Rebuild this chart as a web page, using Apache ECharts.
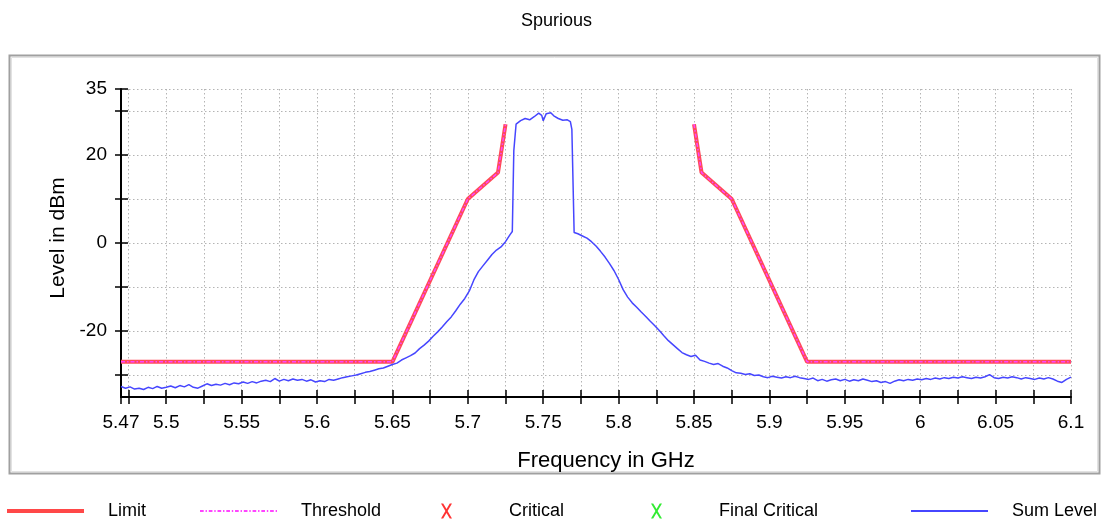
<!DOCTYPE html>
<html>
<head>
<meta charset="utf-8">
<script src="https://cdn.jsdelivr.net/npm/echarts@6/dist/echarts.min.js"></script>
<style>html,body{margin:0;padding:0;background:#fff;}#c{width:1101px;height:521px;}</style>
</head>
<body>
<div id="c"></div>
<script>
const chartTitle = 'Spurious';
const xName = 'Frequency in GHz';
const yName = 'Level in dBm';
const seriesNames = ['Limit', 'Threshold', 'Critical', 'Final Critical', 'Sum Level'];

const xTicks = [5.47, 5.475, 5.5, 5.525, 5.55, 5.575, 5.6, 5.625, 5.65, 5.675, 5.7, 5.725, 5.75, 5.775, 5.8, 5.825, 5.85, 5.875, 5.9, 5.925, 5.95, 5.975, 6, 6.025, 6.05, 6.075, 6.1];
const xLabels = [5.47, 5.5, 5.55, 5.6, 5.65, 5.7, 5.75, 5.8, 5.85, 5.9, 5.95, 6, 6.05, 6.1];
const yTicks = [-30, -20, -10, 0, 10, 20, 30, 35];
const yLabels = [-20, 0, 20, 35];

const limitData = [
  [5.47, -27], [5.65, -27], [5.70, 10], [5.72, 16], [5.725, 27],
  [5.79, '-'],
  [5.85, 27], [5.855, 16], [5.875, 10], [5.925, -27], [6.1, -27]
];
const thresholdData = limitData;
const criticalData = [];
const finalCriticalData = [];

const sumLevel = [
  [5.470,-32.6],[5.473,-33.0],[5.476,-32.7],[5.479,-33.2],[5.482,-33.0],[5.485,-33.3],[5.488,-32.8],[5.491,-33.1],
  [5.494,-32.6],[5.497,-33.0],[5.500,-32.8],[5.503,-32.5],[5.506,-32.9],[5.509,-32.4],[5.512,-32.7],[5.515,-32.2],
  [5.518,-32.8],[5.521,-33.0],[5.524,-32.5],[5.527,-32.0],[5.530,-32.4],[5.533,-32.1],[5.536,-32.3],[5.539,-31.9],
  [5.542,-32.2],[5.545,-31.8],[5.548,-32.0],[5.551,-31.6],[5.554,-31.9],[5.557,-31.5],[5.560,-31.8],[5.563,-31.4],
  [5.566,-31.2],[5.569,-31.5],[5.572,-30.8],[5.575,-31.4],[5.578,-31.0],[5.581,-31.3],[5.584,-30.9],[5.587,-31.2],
  [5.590,-31.0],[5.593,-31.4],[5.596,-31.1],[5.599,-31.6],[5.602,-31.3],[5.605,-31.5],[5.608,-31.0],[5.611,-31.2],
  [5.614,-30.9],[5.617,-30.6],[5.620,-30.4],[5.623,-30.2],[5.626,-30.0],[5.629,-29.7],[5.632,-29.4],[5.635,-29.2],
  [5.638,-28.9],[5.641,-28.6],[5.644,-28.4],[5.647,-28.0],[5.650,-27.6],[5.653,-27.3],[5.656,-26.6],[5.659,-26.1],
  [5.662,-25.6],[5.665,-25.0],[5.668,-24.0],[5.671,-23.2],[5.674,-22.3],[5.677,-21.2],[5.680,-20.2],[5.683,-19.1],
  [5.686,-17.9],[5.689,-16.8],[5.692,-15.4],[5.695,-13.9],[5.698,-12.6],[5.701,-10.9],[5.704,-8.4],[5.707,-6.5],
  [5.710,-5.2],[5.713,-3.9],[5.716,-2.6],[5.719,-1.6],[5.722,-0.9],[5.725,0.3],[5.728,1.9],[5.7295,2.6],
  [5.7305,21.0],[5.732,27.0],[5.735,27.8],[5.738,28.3],[5.741,28.0],[5.744,28.7],[5.747,29.5],[5.749,29.0],
  [5.750,27.8],[5.752,29.4],[5.755,29.6],[5.757,28.9],[5.760,28.3],[5.763,27.9],[5.766,28.0],[5.768,27.6],
  [5.769,25.8],[5.7705,2.4],[5.773,2.1],[5.776,1.6],[5.779,1.1],[5.782,0.3],[5.785,-0.7],[5.788,-1.9],
  [5.791,-3.2],[5.794,-4.7],[5.797,-6.3],[5.800,-8.3],[5.803,-10.6],[5.806,-12.3],[5.809,-13.6],[5.812,-14.6],
  [5.815,-15.7],[5.818,-16.7],[5.821,-17.8],[5.824,-18.8],[5.827,-19.9],[5.830,-21.1],[5.833,-22.2],[5.836,-23.1],
  [5.839,-24.0],[5.842,-24.9],[5.845,-25.4],[5.848,-25.8],[5.851,-25.5],[5.854,-26.6],[5.857,-26.9],[5.860,-27.3],
  [5.863,-27.6],[5.866,-27.4],[5.869,-28.0],[5.872,-28.4],[5.875,-29.0],[5.878,-29.5],[5.881,-29.6],[5.884,-29.9],
  [5.887,-29.7],[5.890,-30.1],[5.893,-30.0],[5.896,-30.4],[5.899,-30.6],[5.902,-30.3],[5.905,-30.5],[5.908,-30.7],
  [5.911,-30.4],[5.914,-30.6],[5.917,-30.3],[5.920,-30.6],[5.923,-30.8],[5.926,-31.0],[5.929,-30.7],[5.932,-31.3],
  [5.935,-31.0],[5.938,-31.4],[5.941,-31.1],[5.944,-30.9],[5.947,-31.3],[5.950,-31.0],[5.953,-31.4],[5.956,-31.1],
  [5.959,-31.3],[5.962,-30.9],[5.965,-31.2],[5.968,-31.5],[5.971,-31.3],[5.974,-31.7],[5.977,-31.5],[5.980,-31.9],
  [5.983,-31.4],[5.986,-31.1],[5.989,-31.3],[5.992,-31.0],[5.995,-31.2],[5.998,-30.9],[6.001,-31.1],[6.004,-30.8],
  [6.007,-31.0],[6.010,-30.7],[6.013,-30.9],[6.016,-30.6],[6.019,-30.8],[6.022,-30.5],[6.025,-30.7],[6.028,-30.4],
  [6.031,-30.6],[6.034,-30.8],[6.037,-30.5],[6.040,-30.7],[6.043,-30.4],[6.046,-29.9],[6.049,-30.6],[6.052,-30.8],
  [6.055,-30.5],[6.058,-30.7],[6.061,-30.4],[6.064,-30.6],[6.067,-30.9],[6.070,-30.6],[6.073,-30.8],[6.076,-31.0],
  [6.079,-30.7],[6.082,-30.9],[6.085,-30.6],[6.088,-30.9],[6.091,-31.4],[6.094,-31.7],[6.097,-31.0],[6.100,-30.5]
];

const FONT = "'Liberation Sans', Arial, sans-serif";
const xPath = 'path://M0,0L2.2,0L5.5,5.4L8.8,0L11,0L6.6,7.5L11,15L8.8,15L5.5,9.6L2.2,15L0,15L4.4,7.5Z';
const solidBar = (h) => 'path://M0,0L77,0L77,' + h + 'L0,' + h + 'Z';
let dashStr = '';
for (let x = 0; x < 77; x += 9.5) {
  dashStr += 'M' + x + ',0L' + (x + 4) + ',0L' + (x + 4) + ',2L' + x + ',2Z';
  dashStr += 'M' + (x + 6) + ',0L' + (x + 7.5) + ',0L' + (x + 7.5) + ',2L' + (x + 6) + ',2Z';
}
const dashPath = 'path://' + dashStr + 'M0,0M77,2';

const chart = echarts.init(document.getElementById('c'), null, {renderer: 'canvas'});

function legendItem(name, left, icon, h) {
  return {
    show: true, left: left, top: 502, orient: 'horizontal',
    padding: 0, itemWidth: 77, itemHeight: h, selectedMode: false,
    symbolKeepAspect: false,
    textStyle: {fontFamily: FONT, fontSize: 18, color: '#000', padding: [0, 0, 0, 19]},
    data: [{name: name, icon: icon}]
  };
}

const gridLine = {show: true, lineStyle: {color: '#b4b4b4', type: [1.5, 2.5], width: 1}};

const option = {
  animation: false,
  backgroundColor: '#fff',
  title: {
    text: chartTitle, left: 521, top: 12, padding: 0,
    textStyle: {fontFamily: FONT, fontSize: 18, fontWeight: 'normal', color: '#000'}
  },
  graphic: [
    {type: 'rect', shape: {x: 9.5, y: 55.5, width: 1090, height: 418}, style: {fill: 'none', stroke: '#a0a0a0', lineWidth: 2}, silent: true, z: -10},
    {type: 'rect', shape: {x: 11.5, y: 57.5, width: 1086, height: 414}, style: {fill: 'none', stroke: '#e2e2e2', lineWidth: 1}, silent: true, z: -10}
  ],
  legend: [
    legendItem('Limit', 7, solidBar(4), 4),
    legendItem('Threshold', 200, dashPath, 2),
    Object.assign(legendItem('Critical', 441, xPath, 15), {symbolKeepAspect: true}),
    Object.assign(legendItem('Final Critical', 651, xPath, 15), {symbolKeepAspect: true}),
    legendItem('Sum Level', 911, solidBar(2), 2)
  ],
  grid: {left: 121, right: 30, top: 89, bottom: 124, containLabel: false},
  xAxis: [
    {
      type: 'value', min: 5.47, max: 6.1, position: 'bottom',
      name: xName, nameLocation: 'middle', nameGap: 53,
      nameTextStyle: {fontFamily: FONT, fontSize: 22, color: '#000', padding: [0, 0, 0, 20]},
      axisLine: {show: true, onZero: false, lineStyle: {color: '#000', width: 2}},
      axisTick: {show: true, inside: false, length: 7, customValues: xTicks, lineStyle: {color: '#000', width: 1.5}},
      axisLabel: {show: true, margin: 16, customValues: xLabels, fontFamily: FONT, fontSize: 19, color: '#000'},
      splitLine: gridLine
    },
    {
      type: 'value', min: 5.47, max: 6.1, position: 'bottom', offset: 0,
      axisLine: {show: false, onZero: false},
      axisTick: {show: true, inside: true, length: 7, customValues: xTicks, lineStyle: {color: '#000', width: 1.5}},
      axisLabel: {show: false},
      splitLine: {show: false}
    }
  ],
  yAxis: [
    {
      type: 'value', min: -35, max: 35, position: 'left',
      name: yName, nameLocation: 'middle', nameGap: 50, nameRotate: 90,
      nameTextStyle: {fontFamily: FONT, fontSize: 21, color: '#000', padding: [0, 0, 0, 10]},
      axisLine: {show: true, onZero: false, lineStyle: {color: '#000', width: 2}},
      axisTick: {show: true, inside: false, length: 6, customValues: yTicks, lineStyle: {color: '#000', width: 1.5}},
      axisLabel: {show: true, margin: 14, customValues: yLabels, fontFamily: FONT, fontSize: 19, color: '#000'},
      splitLine: gridLine
    },
    {
      type: 'value', min: -35, max: 35, position: 'left', offset: 0,
      axisLine: {show: false, onZero: false},
      axisTick: {show: true, inside: true, length: 7, customValues: yTicks, lineStyle: {color: '#000', width: 1.5}},
      axisLabel: {show: false},
      splitLine: {show: false}
    }
  ],
  series: [
    {
      name: 'Limit', type: 'line', data: limitData, showSymbol: false, symbol: 'none',
      connectNulls: false, color: '#ff4848', z: 3,
      lineStyle: {color: '#ff4a58', width: 4}
    },
    {
      name: 'Threshold', type: 'line', data: thresholdData, showSymbol: false, symbol: 'none',
      connectNulls: false, color: '#ff44ff', z: 4,
      lineStyle: {color: '#ff44ff', width: 1.5, type: [4, 2, 1.5, 2]}
    },
    {name: 'Critical', type: 'scatter', data: criticalData, symbol: xPath, color: '#ff0000'},
    {name: 'Final Critical', type: 'scatter', data: finalCriticalData, symbol: xPath, color: '#00e600'},
    {
      name: 'Sum Level', type: 'line', data: sumLevel, showSymbol: false, symbol: 'none',
      color: '#4646ff', z: 5,
      lineStyle: {color: '#4646ff', width: 1.5}
    }
  ]
};
chart.setOption(option);
</script>
</body>
</html>
